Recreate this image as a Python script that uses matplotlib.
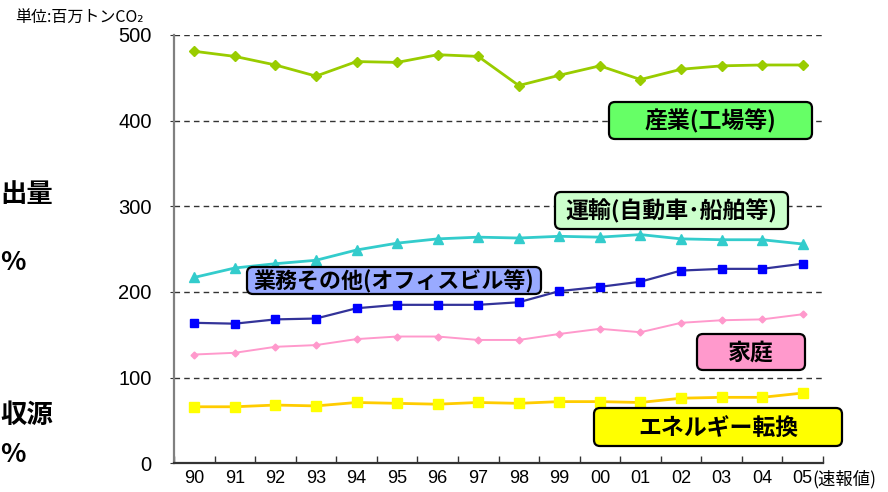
import numpy as np
import matplotlib
matplotlib.use("Agg")
import matplotlib.pyplot as plt
from matplotlib.patches import FancyBboxPatch

years = ['90', '91', '92', '93', '94', '95', '96', '97', '98', '99',
         '00', '01', '02', '03', '04', '05']
industry = [481, 475, 465, 452, 469, 468, 477, 475, 441, 453, 464, 448, 460, 464, 465, 465]
transport = [217, 228, 233, 237, 249, 257, 262, 264, 263, 265, 264, 267, 262, 261, 261, 256]
business = [164, 163, 168, 169, 181, 185, 185, 185, 188, 201, 206, 212, 225, 227, 227, 233]
household = [127, 129, 136, 138, 145, 148, 148, 144, 144, 151, 157, 153, 164, 167, 168, 174]
energy = [66, 66, 68, 67, 71, 70, 69, 71, 70, 72, 72, 71, 76, 77, 77, 82]
yticks = [0, 100, 200, 300, 400, 500]

JP = ['Noto Sans CJK JP', 'DejaVu Sans']
NUM = ['Liberation Sans', 'DejaVu Sans']

W, H = 888, 492
fig = plt.figure(figsize=(W / 100, H / 100), dpi=100)
ax_l, ax_r, ax_t, ax_b = 174, 823, 35, 463.3
ax = fig.add_axes([ax_l / W, 1 - ax_b / H, (ax_r - ax_l) / W, (ax_b - ax_t) / H])

x = np.arange(len(years))
ax.plot(x, industry, color='#99CC00', lw=2, marker='D', ms=5.5, mfc='#99CC00', mec='#99CC00', zorder=3)
ax.plot(x, transport, color='#33CCCC', lw=2, marker='^', ms=7.5, mfc='#33CCCC', mec='#33CCCC', zorder=3)
ax.plot(x, business, color='#333399', lw=1.6, marker='s', ms=5.5, mfc='#0000FF', mec='#0000FF', zorder=3)
ax.plot(x, household, color='#FF99CC', lw=1.4, marker='D', ms=3.5, mfc='#FF99CC', mec='#FF99CC', zorder=3)
ax.plot(x, energy, color='#FFCC00', lw=2, marker='s', ms=7.5, mfc='#FFFF00', mec='#FFFF00', zorder=3)

ax.set_xlim(-0.5, len(years) - 0.5)
ax.set_ylim(0, 500)
ax.set_yticks(yticks)
ax.set_yticklabels([str(v) for v in yticks], fontfamily=NUM, fontsize=14.5)
ax.set_xticks(np.arange(-0.5, len(years), 1))
ax.set_xticklabels([])
ax.set_xticks(x, minor=True)
ax.set_xticklabels(years, minor=True, fontfamily=NUM, fontsize=13)
ax.tick_params(axis='x', which='major', direction='in', length=5, color='#333333', width=1)
ax.tick_params(axis='x', which='minor', length=0, pad=5)
ax.tick_params(axis='y', direction='out', length=3, color='#333333', pad=13)

for s in ['top', 'right']:
    ax.spines[s].set_visible(False)
ax.spines['left'].set_color('#808080')
ax.spines['left'].set_linewidth(1.6)
ax.spines['bottom'].set_color('#333333')
ax.spines['bottom'].set_linewidth(1.6)
for v in yticks[1:]:
    ax.axhline(v, color='#333333', lw=1, ls=(0, (4, 3)), zorder=1)

# unit text
fig.text(15 / W, 1 - 18 / H, '単位:百万トンCO₂', fontfamily=JP, fontsize=11.5, va='center', ha='left')
fig.text(812 / W, 1 - 479 / H, '(速報値)', fontfamily=JP, fontsize=12.5, va='center', ha='left')

# clipped slide text on the left
for txt, yy in [('出量', 195), ('%', 263), ('収源', 415), ('%', 455)]:
    fig.text(0, 1 - yy / H, txt, fontfamily=JP, fontsize=19, fontweight='bold', va='center', ha='left')

# label boxes (pixel extents)
labels = [
    ('産業(工場等)', '#66FF66', 609, 812, 102, 139, 16.5),
    ('運輸(自動車･船舶等)', '#CCFFCC', 555, 788, 192, 229, 16.5),
    ('業務その他(オフィスビル等)', '#99AAFF', 247, 541, 267, 294, 15.8),
    ('家庭', '#FF99CC', 697, 805, 334, 370, 16.5),
    ('エネルギー転換', '#FFFF00', 594, 842, 408, 446, 16.5),
]
for txt, col, x0, x1, y0, y1, fs in labels:
    p = FancyBboxPatch((x0 / 100, (H - y1) / 100), (x1 - x0) / 100, (y1 - y0) / 100,
                       boxstyle='round,pad=0,rounding_size=0.06', transform=fig.dpi_scale_trans,
                       facecolor=col, edgecolor='black', lw=1.6, zorder=5)
    fig.patches.append(p)
    fig.text((x0 + x1) / 2 / W, 1 - ((y0 + y1) / 2 + 1) / H, txt, fontfamily=JP, fontsize=fs,
             fontweight='bold', ha='center', va='center', zorder=6)

fig.savefig('out.png', dpi=100)
